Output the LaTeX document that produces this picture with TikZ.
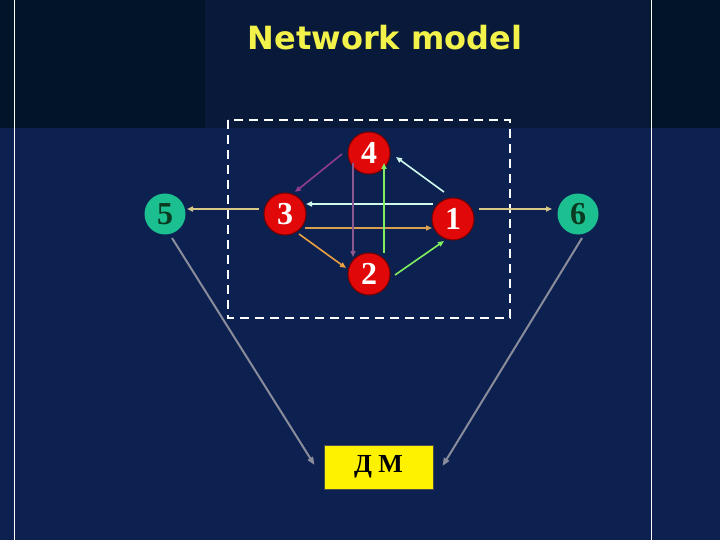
\documentclass[tikz,border=0pt]{standalone}
\usepackage{fontspec}
\setmainfont{Liberation Serif}
\newfontfamily\titlefont{DejaVu Sans}
\usetikzlibrary{calc,arrows.meta}
\definecolor{bglow}{HTML}{0C2150}
\definecolor{bgtop}{HTML}{021428}
\definecolor{bgtopmid}{HTML}{08193A}
\definecolor{nodered}{HTML}{E00808}
\definecolor{noderedborder}{HTML}{7A0000}
\definecolor{nodegreen}{HTML}{1CC090}
\definecolor{greentext}{HTML}{0A3A20}
\definecolor{titleyellow}{HTML}{F2F24A}
\definecolor{ckhaki}{HTML}{D8C888}
\definecolor{ccyan}{HTML}{D0F8EC}
\definecolor{ctan}{HTML}{D8A050}
\definecolor{corange}{HTML}{E8A040}
\definecolor{cpurple}{HTML}{903C90}
\definecolor{cmauve}{HTML}{8C5890}
\definecolor{cgreen}{HTML}{80F060}
\definecolor{cgray}{HTML}{8A8C9C}
\tikzset{
  rednode/.style={circle,fill=nodered,draw=noderedborder,line width=1pt,minimum size=42pt,inner sep=0pt,text=white,font=\fontsize{32}{32}\selectfont\bfseries},
  greennode/.style={circle,fill=nodegreen,draw=none,minimum size=41pt,inner sep=0pt,text=greentext,font=\fontsize{32}{32}\selectfont\bfseries},
  arr/.style={line width=1.6pt,-{Triangle[length=6pt,width=5pt]}},
  grayarr/.style={line width=2pt,cgray,-{Triangle[length=8pt,width=6pt]}},
}
\begin{document}
\begin{tikzpicture}[x=1pt,y=-1pt]
\useasboundingbox (0,0) rectangle (720,540);
% background
\fill[bglow] (0,0) rectangle (720,540);
\fill[bgtop] (0,0) rectangle (720,128);
\fill[bgtopmid] (205,0) rectangle (650,128);
\draw[white,line width=1pt] (14,0) -- (14,540);
\draw[white,line width=1pt] (651,0) -- (651,540);
% title
\node[text=titleyellow,font=\titlefont\fontsize{32}{32}\selectfont\bfseries] (title) at (385,38) {Network model};
% dashed box
\draw[white,line width=2pt,dash pattern=on 9pt off 6pt] (228,120) rectangle (510,318);
% nodes
\node[rednode] (n4) at (369,153) {4};
\node[rednode] (n3) at (285,214) {3};
\node[rednode] (n1) at (453,219) {1};
\node[rednode] (n2) at (369,274) {2};
\node[greennode] (n5) at (165,214) {5};
\node[greennode] (n6) at (578,214) {6};
\node[fill=yellow,draw=black!70,line width=1pt,minimum width=109pt,minimum height=44pt,inner sep=0pt,font=\fontsize{26}{26}\selectfont\bfseries] (dm) at (378.5,467) {Д М};
% arrows
\draw[arr,ckhaki] ($(n3)+(-26,-5)$) -- ($(n5)+(22,-5)$);
\draw[arr,ckhaki] ($(n1)+(26,-10)$) -- ($(n6)+(-26,-5)$);
\draw[arr,ccyan] ($(n1)+(-20,-15)$) -- ($(n3)+(21,-10)$);
\draw[arr,ctan] ($(n3)+(20,14)$) -- ($(n1)+(-21,9)$);
\draw[arr,ccyan] ($(n1)+(-9,-27)$) -- ($(n4)+(27,4)$);
\draw[arr,cpurple] ($(n4)+(-27,1)$) -- ($(n3)+(10,-22)$);
\draw[arr,cmauve] ($(n4)+(-16,10)$) -- ($(n2)+(-16,-17)$);
\draw[arr,cgreen] ($(n2)+(15,-21)$) -- ($(n4)+(15,10)$);
\draw[arr,corange] ($(n3)+(14,20)$) -- ($(n2)+(-23,-6)$);
\draw[arr,cgreen] ($(n2)+(26,1)$) -- ($(n1)+(-9,22)$);
\draw[grayarr] ($(n5)+(7,24)$) -- ($(dm.west)+(-9,-2)$);
\draw[grayarr] ($(n6)+(4,24)$) -- ($(dm.east)+(9,-1)$);
\end{tikzpicture}
\end{document}
